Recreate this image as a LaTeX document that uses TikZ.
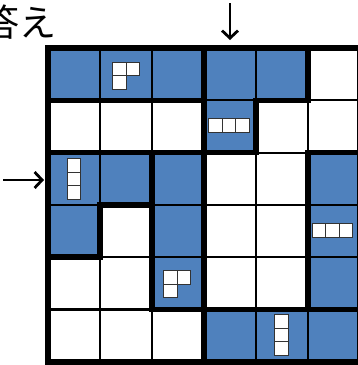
\documentclass[tikz,border=0pt]{standalone}
\usepackage{fontspec}
\newfontfamily\jpfont{Noto Sans CJK JP}
\usetikzlibrary{arrows.meta}
\definecolor{cellblue}{RGB}{79,129,189}
\tikzset{
  tile/.style={fill=white,draw=black!80,line width=0.9pt},
  tri tile/.pic={\path[tile] (-13.5,-13.5) rectangle (0,0) (0,-13.5) rectangle (13.5,0) (-13.5,0) rectangle (0,13.5);},
  bar tile/.pic={\foreach \k in {-1,0,1} \path[tile] (\k*13.4-6.7,-6.6) rectangle (\k*13.4+6.7,6.6);},
}
\begin{document}
\begin{tikzpicture}[x=1pt,y=-1pt,
  thin grid/.style={line width=2.2pt,black},
  region/.style={line width=5.5pt,black,line join=miter},
  blue cell/.style={fill=cellblue},
  hint arrow/.style={line width=2.8pt,-{Straight Barb[length=7.5pt,width=16pt]}},
  ]
\useasboundingbox (0,0) rectangle (358,365);

% board: 6 x 6 cells
\begin{scope}[shift={(48pt,-48pt)},x=52pt,y=-52.3pt]
  \foreach \c/\r in {1/1,2/1,3/1,4/1,5/1,4/2,1/3,2/3,3/3,6/3,1/4,3/4,6/4,3/5,6/5,4/6,5/6,6/6}
    \fill[blue cell] (\c-1,\r-1) rectangle (\c,\r);
  \foreach \i in {1,...,5} {
    \draw[thin grid] (\i,0) -- (\i,6);
    \draw[thin grid] (0,\i) -- (6,\i);
  }
  % region outlines
  \draw[region] (0,0) rectangle (3,1);
  \draw[region] (3,0) -- (5,0) -- (5,1) -- (4,1) -- (4,2) -- (3,2) -- cycle;
  \draw[region] (0,2) -- (2,2) -- (2,3) -- (1,3) -- (1,4) -- (0,4) -- cycle;
  \draw[region] (2,2) rectangle (3,5);
  \draw[region] (5,2) rectangle (6,5);
  \draw[region] (3,5) rectangle (6,6);
  \draw[region] (0,0) rectangle (6,6);
\end{scope}

% piece hints
\pic at (126,75.5) {tri tile};
\pic at (229,125.5) {bar tile};
\pic[rotate=90] at (74,179) {bar tile};
\pic at (332.5,230.5) {bar tile};
\pic at (177,284) {tri tile};
\pic[rotate=90] at (281.5,335) {bar tile};

% title and entry arrows
\node[anchor=east,inner sep=0pt,font=\jpfont\fontsize{37}{42}\selectfont] (answer) at (57,22) {答え};
\coordinate (down tail) at (230,3);
\coordinate (down tip) at (230,40);
\coordinate (right tail) at (3,180);
\coordinate (right tip) at (44,180);
\draw[hint arrow] (down tail) -- (down tip);
\draw[hint arrow] (right tail) -- (right tip);
\end{tikzpicture}
\end{document}
